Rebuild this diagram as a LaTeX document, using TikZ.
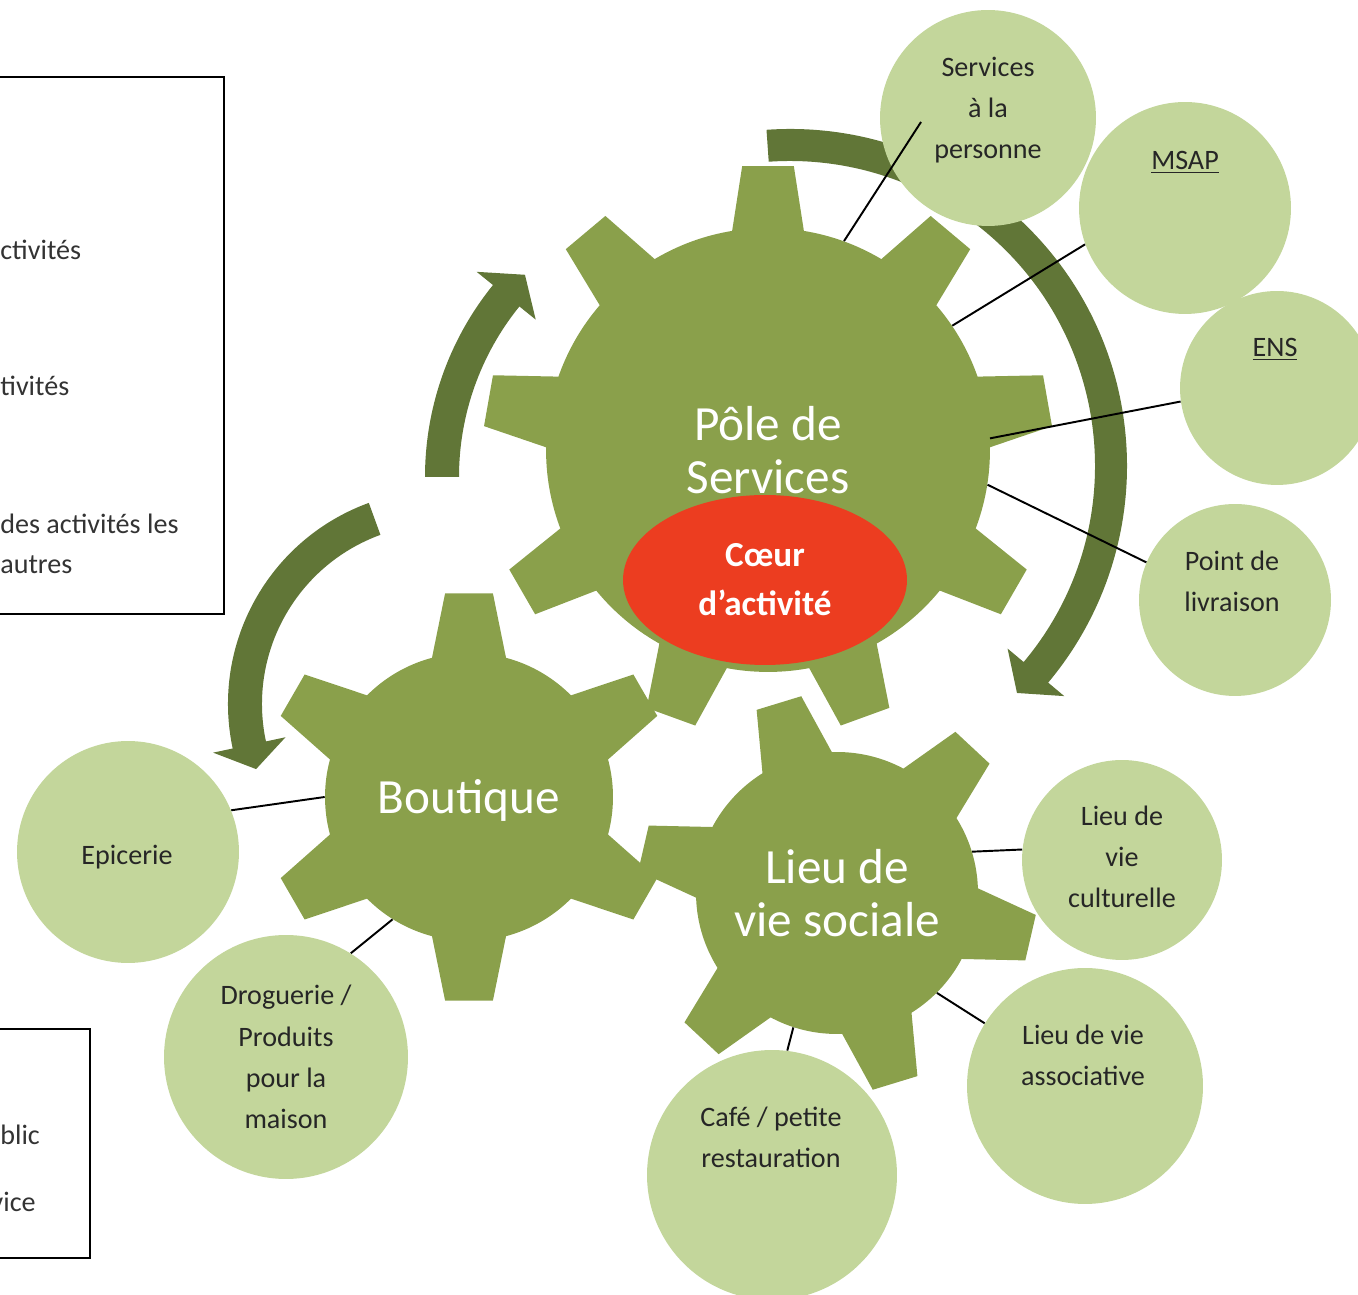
\documentclass[tikz,border=0pt]{standalone}
\usepackage{fontspec}
\setmainfont{Carlito}
\usetikzlibrary{shapes.geometric}

\definecolor{geargreen}{HTML}{8AA04B}
\definecolor{arrowgreen}{HTML}{617637}
\definecolor{bubblegreen}{HTML}{C3D69B}
\definecolor{heartred}{HTML}{EC3D20}

% teeth of a gear: centre, inner radius, outer radius, angles, half base, half top
\newcommand{\gearteeth}[6]{%
  \foreach \a in {#4}
    \fill [geargreen, shift={#1}] ({\a-#5}:{#2-12}) -- ({\a-#5}:#2) -- ({\a-#6}:#3)
      -- ({\a+#6}:#3) -- ({\a+#5}:#2) -- ({\a+#5}:{#2-12}) -- cycle;
}

% bent block arrow: centre, radius, half width, start, end, half head, tip angle
\newcommand{\bentarrow}[7]{%
  \fill [arrowgreen, shift={#1}] (#4:{#2+#3}) arc [start angle=#4, end angle=#5, radius={#2+#3}]
    -- (#5:{#2+#6}) -- (#7:#2) -- (#5:{#2-#6}) -- (#5:{#2-#3})
    arc [start angle=#5, end angle=#4, radius={#2-#3}] -- cycle;
}

\begin{document}
\begin{tikzpicture}[x=0.02cm, y=0.02cm,
  gearbody/.style={circle, fill=geargreen, inner sep=0pt, text=white, align=center,
    font=\fontsize{28}{30}\selectfont},
  heart/.style={ellipse, fill=heartred, inner sep=0pt, text=white, align=center,
    font=\bfseries\fontsize{20}{28}\selectfont},
  bubble/.style={circle, fill=bubblegreen, inner sep=0pt},
  bubbletext/.style={align=center, text=black!85, font=\fontsize{16}{23.5}\selectfont},
  legend/.style={draw, line width=1.2pt},
  legendtext/.style={inner sep=0pt, text=black!80, font=\fontsize{16}{20}\selectfont},
  link/.style={draw=black, line width=1.1pt}]

\useasboundingbox (0,0) rectangle (1358,1294);

% legend boxes, cut at the left
\draw [legend] (-20,680) rectangle (224,1217);
\node [legendtext, anchor=west] (leg1) at (0,1044) {ctivités};
\node [legendtext, anchor=west] (leg2) at (0,908) {tivités};
\node [legendtext, anchor=west] (leg3) at (0,770) {des activités les};
\node [legendtext, anchor=west] (leg4) at (0,729) {autres};

\draw [legend] (-20,36) rectangle (90,265);
\node [legendtext, anchor=west] (leg5) at (0,159) {blic};
\node [legendtext, anchor=east] (leg6) at (36,92) {vice};

% arrows
\bentarrow{(790,828)}{321}{16}{94}{-40}{37}{-45}
\bentarrow{(730,817)}{288}{17}{180}{141}{38}{135.4}
\bentarrow{(442,590)}{197}{17}{110}{192}{37}{199.3}

% gears
\node [gearbody, minimum size=8.88cm] (pole) at (768,844) {Pôle de\\Services};
\gearteeth{(768,844)}{222}{285}{10,50,...,330}{9.3}{5.2}

\node [gearbody, minimum size=5.76cm, text depth=0pt] (boutique) at (469,497) {Boutique};
\gearteeth{(469,497)}{144}{205}{30,90,...,330}{14.9}{6.7}

\node [gearbody, minimum size=5.64cm] (sociale) at (837,401) {Lieu de\\vie sociale};
\gearteeth{(837,401)}{141}{200}{-13,47,...,287}{14.9}{6.7}

\node [heart, minimum width=5.68cm, minimum height=3.4cm] (coeur) at (765,714) {Cœur\\d’activité};

% bubbles
\node [bubble, minimum size=4.32cm] (serv) at (988,1176) {};
\node [bubbletext] (serv-t) at (988,1184) {Services\\à la\\personne};

\node [bubble, minimum size=4.24cm] (msap) at (1185,1086) {};
\node [bubbletext] (msap-t) at (1185,1132) {\underline{MSAP}};

\node [bubble, minimum size=3.88cm] (ens) at (1277,906) {};
\node [bubbletext] (ens-t) at (1275,945) {\underline{ENS}};

\node [bubble, minimum size=3.84cm] (livr) at (1235,694) {};
\node [bubbletext] (livr-t) at (1232,713) {Point de\\livraison};

\node [bubble, minimum size=4cm] (cult) at (1122,434) {};
\node [bubbletext] (cult-t) at (1122,437) {Lieu de\\vie\\culturelle};

\node [bubble, minimum size=4.72cm] (asso) at (1085,208) {};
\node [bubbletext] (asso-t) at (1083,239) {Lieu de vie\\associative};

\node [bubble, minimum size=5cm] (cafe) at (772,119) {};
\node [bubbletext] (cafe-t) at (771,157) {Café / petite\\restauration};

\node [bubble, minimum size=4.88cm] (drog) at (286,237) {};
\node [bubbletext] (drog-t) at (286,237) {Droguerie /\\Produits\\pour la\\maison};

\node [bubble, minimum size=4.44cm] (epic) at (128,442) {};
\node [bubbletext] (epic-t) at (127,437) {Epicerie};

% links
\coordinate (servin) at (921,1172);
\draw [link] (pole.70) -- (servin);
\draw [link] (pole.34) -- (msap.200);
\draw [link] (pole.3) -- (ens.188);
\draw [link] (pole.-9) -- (livr.157);

\draw [link] (sociale.17) -- (cult.174);
\draw [link] (sociale.-45) -- (asso.148);
\draw [link] (sociale.-108) -- (cafe.83);

\draw [link] (boutique.-122) -- (drog.58);
\draw [link] (boutique.180) -- (epic.22);

\end{tikzpicture}
\end{document}
